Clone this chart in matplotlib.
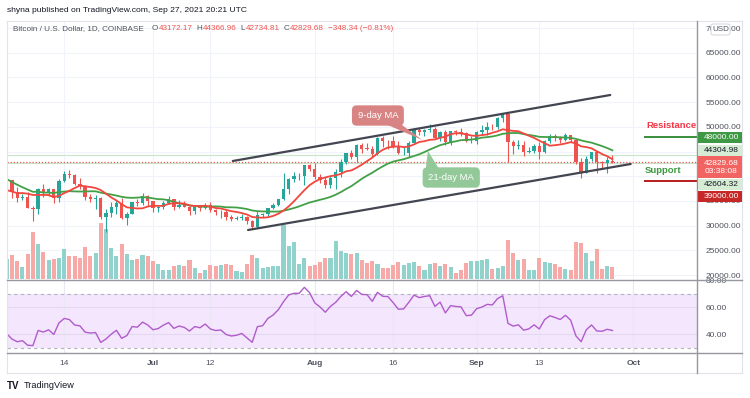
import matplotlib
matplotlib.use('Agg')
import matplotlib.pyplot as plt
import matplotlib.dates as mdates
from matplotlib.patches import Rectangle, FancyBboxPatch, Polygon
from matplotlib.lines import Line2D
import numpy as np
import pandas as pd

plt.rcParams['font.family'] = ['Liberation Sans', 'DejaVu Sans']

# daily BTC/USD candles, Jun 3 .. Sep 27 2021
start_date = '2021-06-03'
opens = [37570, 39240, 36850, 35520, 35800, 33560, 33380, 37350, 36690, 37330,
         35550, 39020, 40530, 40160, 38340, 38090, 35820, 35480, 35600, 31680,
         32500, 33680, 34660, 31590, 32280, 34700, 34490, 35910,
         35040, 33520, 33820, 34660, 35290, 33690, 34230, 33860, 32880, 33810,
         33510, 34260, 33090, 32730, 32820, 31780, 31420, 31520, 31780, 30840,
         29790, 32140, 32290, 33590, 34250, 35350, 37340, 39460, 40020, 40030,
         42230,
         41460, 39850, 39150, 38210, 39720, 40870, 42830, 44630, 43830, 46290,
         45590, 45550, 44420, 47830, 47100, 47050, 45970, 44700, 44800, 46720,
         49330, 48870, 49290, 49540, 47710, 48990, 46850, 49070, 48900, 48820,
         47050,
         47160, 48850, 49280, 50030, 49940, 51770, 52660, 46860, 46080, 46390,
         44850, 45160, 46050, 44960, 47110, 48140, 47760, 47300, 48300, 47260,
         42930, 40700, 43560, 44880, 42840, 42710, 43172.17]
highs = [39480, 39290, 37910, 36440, 36790, 34070, 37530, 38400, 37680, 37440,
         39380, 41000, 41340, 40500, 39560, 38200, 36470, 36110, 35750, 33300,
         34880, 35250, 35500, 32700, 34720, 35300, 36600, 36100,
         35040, 33950, 34940, 35950, 35290, 35110, 35060, 33920, 34090, 34250,
         34590, 34680, 33340, 33120, 33180, 32240, 31950, 32450, 31880, 31060,
         32860, 32600, 33650, 34500, 35400, 40550, 39540, 40900, 40630, 42320,
         42420,
         42600, 40450, 39780, 39970, 41410, 43400, 44700, 45330, 46460, 46700,
         46780, 46200, 47900, 48160, 47390, 48060, 47150, 46000, 47050, 49350,
         49800, 49500, 50500, 49880, 49230, 49370, 49180, 49300, 49660, 48920,
         48240,
         49150, 50380, 51050, 50560, 51900, 52780, 52920, 47380, 47400, 47040,
         45990, 46460, 46880, 47250, 48490, 48480, 48150, 48800, 48370, 47340,
         43640, 44000, 44980, 45000, 42980, 43950, 44366.96]
lows = [37170, 35570, 34800, 35270, 33480, 31000, 32400, 35800, 35950, 34600,
        34780, 38750, 39550, 38140, 37380, 35150, 34820, 33370, 31300, 28800,
        31700, 32310, 31280, 30150, 32280, 33870, 34250, 34020,
        32710, 32700, 33330, 34460, 33150, 33520, 33770, 32100, 32250, 33010,
        33330, 32700, 32230, 31580, 31150, 31020, 31160, 31110, 30410, 29280,
        29480, 31710, 31950, 33320, 33880, 35230, 36400, 38790, 39270, 38320,
        41030,
        39420, 38700, 37650, 37520, 37330, 39880, 42450, 43400, 42840, 44710,
        45350, 43800, 44250, 45970, 45540, 45700, 44400, 44230, 43950, 46640,
        48300, 48140, 49050, 47600, 47180, 46380, 46400, 48400, 48100, 46900,
        46700,
        46580, 48640, 48380, 49440, 49500, 50990, 42830, 44440, 45540, 44150,
        44750, 44760, 43390, 44690, 46700, 47040, 46750, 47050, 46880, 42500,
        39600, 40570, 43100, 40680, 41680, 40750, 42734.81]
closes = [39190, 36850, 35520, 35800, 33560, 33380, 37350, 36690, 37330, 35550,
          39020, 40530, 40160, 38340, 38090, 35820, 35480, 35600, 31680, 32500,
          33680, 34660, 31590, 32280, 34700, 34490, 35910, 35040,
          33520, 33820, 34660, 35290, 33690, 34230, 33860, 32880, 33810, 33510,
          34260, 33090, 32730, 32820, 31780, 31420, 31520, 31780, 30840, 29790,
          32140, 32290, 33590, 34250, 35350, 37340, 39460, 40020, 40030, 42230,
          41460,
          39850, 39150, 38210, 39720, 40870, 42830, 44630, 43830, 46290, 45590,
          45550, 44420, 47830, 47100, 47050, 45970, 44700, 44800, 46720, 49330,
          48870, 49290, 49540, 47710, 48990, 46850, 49070, 48900, 48820, 47050,
          47160,
          48850, 49280, 50030, 49940, 51770, 52660, 46860, 46080, 46390, 44850,
          45160, 46050, 44960, 47110, 48140, 47760, 47300, 48300, 47260, 42930,
          40700, 43560, 44880, 42840, 42710, 43210, 42829.68]
# volume, thousand BTC
volume_k = [20,
            24, 18, 12, 25, 47, 35, 27, 19, 20, 21, 30, 23, 23, 21, 32, 23, 26, 56, 50, 31,
            23, 35, 25, 19, 20, 24, 23, 18, 15, 9, 9, 13, 14, 13, 19, 11, 6, 9, 14, 13,
            14, 15, 14, 8, 7, 15, 24, 21, 11, 12, 13, 13, 54, 33, 37, 15, 21, 13,
            14, 17, 21, 21, 38, 28, 26, 25, 26, 19, 16, 18, 15, 11, 11, 14, 17, 14, 16, 17,
            13, 9, 15, 16, 13, 15, 12, 6, 9, 16, 18,
            18, 19, 20, 10, 11, 13, 39, 26, 19, 20, 9, 9, 21, 17, 16, 15, 12, 10, 9, 37,
            36, 26, 18, 30, 10, 13, 12]
# closes May 1 .. Jun 2, only used to warm up the indicators
history_closes = [57800, 56580, 57170, 53240, 57520, 56440, 57360, 58850, 58250, 55860,
                  56700, 49150, 49720, 49880, 46760, 46430, 43540, 42910, 36730, 40600,
                  37340, 37470, 34770, 38710, 38400, 39290, 38530, 35680, 34620, 35680,
                  37340, 36690, 37560]

price_ticks = [20000, 25000, 30000, 35000, 40000, 45000, 50000, 55000, 60000, 65000, 70000]
# 40000 and 45000 sit under the price-line labels, so no text for them
price_tick_labels = ['20000.00', '25000.00', '30000.00', '35000.00', '', '',
                     '50000.00', '55000.00', '60000.00', '65000.00', '70000.00']
date_ticks = ['2021-06-14', '2021-07-01', '2021-07-12', '2021-08-01', '2021-08-16',
              '2021-09-01', '2021-09-13', '2021-10-01']
date_labels = ['14', 'Jul', '12', 'Aug', '16', 'Sep', '13', 'Oct']
resistance = 48000
support = 39000
ma21_level = 44304.98
ma9_level = 42604.32
last_price = 42829.68

UP = '#26a69a'
DOWN = '#ef5350'
GRID = '#f0f3fa'
TXT = '#50535e'
FS = 6.0

W, H = 750, 398
fig = plt.figure(figsize=(7.5, 3.98), dpi=100)
fig.patch.set_facecolor('white')

def fx(px):
    return px / W

def fy(py):
    return 1 - py / H

dates = pd.date_range(start_date, periods=len(closes), freq='D')
x = mdates.date2num(dates)
o = np.array(opens, float)
c = np.array(closes, float)
up = c >= o

# indicators from the close series
allc = pd.Series(history_closes + closes, dtype=float)
n0 = len(history_closes)
ma9 = allc.rolling(9).mean().values[n0:]
ma21 = allc.rolling(21).mean().values[n0:]
d = allc.diff()
g = d.clip(lower=0).ewm(alpha=1 / 14, adjust=False).mean()
l = (-d.clip(upper=0)).ewm(alpha=1 / 14, adjust=False).mean()
rsi = (100 - 100 / (1 + g / l)).values[n0:]

L, R, T, B1, B2 = 7, 697, 21, 280, 353
xl = (x[0] + 0.04, x[0] + 132.2)
yl = (18990, 71420)
rect = [fx(L), fy(B1), fx(R - L), (B1 - T) / H]

ax_grid = fig.add_axes(rect)
ax_vol = fig.add_axes(rect)
ax = fig.add_axes(rect)
ax_rsi = fig.add_axes([fx(L), fy(B2), fx(R - L), (B2 - B1) / H])

tick_x = mdates.date2num(pd.to_datetime(date_ticks))

for a in (ax_grid, ax_vol, ax, ax_rsi):
    a.set_xlim(*xl)
    for s in a.spines.values():
        s.set_visible(False)
    a.tick_params(length=0)

ax_vol.patch.set_visible(False)
ax.patch.set_visible(False)

# grid
ax_grid.set_ylim(*yl)
ax_grid.set_xticks([])
ax_grid.set_yticks([])
for t in price_ticks:
    ax_grid.axhline(t, color=GRID, lw=0.8)
for t in tick_x:
    ax_grid.axvline(t, color=GRID, lw=0.8)

# volume
ax_vol.bar(x, volume_k, width=0.78, color=np.where(up, '#92d2cc', '#f7a9a7'))
ax_vol.set_ylim(-1, (B1 - T) - 1)
ax_vol.set_xticks([])
ax_vol.set_yticks([])

# candles
ax.set_ylim(*yl)
cols = np.where(up, UP, DOWN)
ax.vlines(x, lows, highs, colors=cols, lw=0.8, zorder=3)
ax.bar(x, np.maximum(np.abs(c - o), 60), bottom=np.minimum(o, c), width=0.64,
       color=cols, zorder=4)
ax.plot(x, ma21, color='#43a047', lw=1.3, zorder=5)
ax.plot(x, ma9, color='#f0473f', lw=1.3, zorder=5)

# horizontal price lines
ax.axhline(ma21_level, color='#c8e6c9', lw=0.8, zorder=2)
ax.axhline(ma9_level, color='#c8e6c9', lw=0.8, zorder=2)
ax.axhline(last_price, color=DOWN, lw=0.9, ls=(0, (1, 1.5)), zorder=2)

# channel
ch_up = pd.to_datetime(['2021-07-16 07:00', '2021-09-26 14:00'])
ch_lo = pd.to_datetime(['2021-07-19 05:00', '2021-09-30 12:00'])
ax.plot(mdates.date2num(ch_up), [43080, 56440], color='#434651', lw=1.6, zorder=6,
        solid_capstyle='round')
ax.plot(mdates.date2num(ch_lo), [29110, 42470], color='#434651', lw=1.6, zorder=6,
        solid_capstyle='round')

# support / resistance
lv_start = mdates.date2num(pd.Timestamp('2021-10-03 02:00'))
ax.hlines(resistance, lv_start, xl[1], color='#388e3c', lw=1.4, zorder=6)
ax.hlines(support, lv_start, xl[1], color='#b71c1c', lw=1.4, zorder=6)
ax.annotate('Resistance', (mdates.date2num(pd.Timestamp('2021-10-08 05:00')), resistance),
            xytext=(0, 4.5), textcoords='offset points', ha='center', va='bottom',
            color='#f23645', fontsize=6.8, fontweight='bold', zorder=7)
ax.annotate('Support', (lv_start, support), xytext=(0.5, 4.5), textcoords='offset points',
            ha='left', va='bottom', color='#3a9a3e', fontsize=6.8, fontweight='bold',
            zorder=7)

# MA callouts: (text, anchor date, anchor price, box date, box price, colour, tail side)
callouts = [
    ('9-day MA', '2021-08-21 14:00', 47330, '2021-08-13 02:00', 52290, '#d98484', 'bottom'),
    ('21-day MA', '2021-08-22 16:00', 45100, '2021-08-27 03:00', 39740, '#93c898', 'top'),
]
call_artists = []
for txt, ad, ap, bd, bp, col, side in callouts:
    t = ax.text(mdates.date2num(pd.Timestamp(bd)), bp, txt, ha='center', va='center',
                color='white', fontsize=6.8, zorder=8,
                bbox=dict(boxstyle='round,pad=0.6,rounding_size=0.5', fc=col, ec='none'))
    call_artists.append((t, mdates.date2num(pd.Timestamp(ad)), ap, col, side))

# price scale
ax.yaxis.tick_right()
ax.set_yticks(price_ticks)
ax.set_yticklabels(price_tick_labels)
ax.tick_params(axis='y', colors=TXT, labelsize=FS, pad=6)
ax.set_xticks([])

# RSI panel
ax_rsi.set_ylim(26, 80.3)
ax_rsi.axhspan(30, 70, color='#f3e6fd', lw=0, zorder=0)
for t in tick_x:
    ax_rsi.axvline(t, color='#ebe6f3', lw=0.8, zorder=0.5)
for t in (40, 60):
    ax_rsi.axhline(t, color='#e2d8ef', lw=0.8, zorder=0.5)
for t in (30, 70):
    ax_rsi.axhline(t, color='#b2b5be', lw=0.8, ls=(0, (3, 3)), zorder=1)
ax_rsi.plot(x, rsi, color='#b05ccb', lw=1.0, zorder=3)
ax_rsi.yaxis.tick_right()
ax_rsi.set_yticks([40, 60, 80])
ax_rsi.set_yticklabels(['40.00', '60.00', '80.00'])
ax_rsi.tick_params(axis='y', colors=TXT, labelsize=FS, pad=6)
ax_rsi.set_xticks(tick_x)
ax_rsi.set_xticklabels(date_labels)
ax_rsi.tick_params(axis='x', colors=TXT, labelsize=FS, pad=5)
for lab in ax_rsi.get_xticklabels():
    if not lab.get_text().isdigit():
        lab.set_fontweight('bold')

# frame lines
def fline(x0, y0, x1, y1, col, lw=0.8):
    fig.add_artist(Line2D([fx(x0), fx(x1)], [fy(y0), fy(y1)], color=col, lw=lw,
                          transform=fig.transFigure))

fline(L, T, 742, T, '#e0e3eb')
fline(L, T, L, 373, '#e0e3eb')
fline(L, 373, 742, 373, '#e0e3eb')
fline(742, T, 742, 373, '#e0e3eb')
fline(L, B1, 742, B1, '#9598a1', 1.0)
fline(L, B2, 742, B2, '#9598a1', 1.0)
fline(R, T, R, 373, '#9598a1', 1.0)

fig.canvas.draw()
rend = fig.canvas.get_renderer()

# callout tails, built from the drawn box and the anchor on the line
for t, axd, ap, col, side in call_artists:
    bb = t.get_bbox_patch().get_window_extent(rend)
    tip = ax.transData.transform((axd, ap))
    if side == 'bottom':
        base = [(bb.x1 - 17, bb.y0 + 1), (bb.x1 - 5, bb.y0 + 3)]
    else:
        base = [(bb.x0 + 3, bb.y1 - 3), (bb.x0 + 16, bb.y1 - 1)]
    pts = ax.transData.inverted().transform([base[0], tip, base[1]])
    ax.add_patch(Polygon(pts, closed=True, fc=col, ec='none', zorder=7.5))

# price labels on the scale: (value, text, face, text colour, offset px, rows)
labels = [
    (resistance, '48000.00', '#3f9843', 'white', 0.8, 1),
    (ma21_level, '44304.98', '#d6ecd5', '#131722', -4.5, 1),
    (last_price, '42829.68\n03:38:08', '#f26461', 'white', 5.0, 2),
    (ma9_level, '42604.32', '#d6ecd5', '#131722', 20.7, 1),
    (support, '39000.00', '#c62828', 'white', 15.5, 1),
]
for val, txt, face, tc, off, rows in labels:
    yd = ax.transData.transform((xl[0], val))[1]
    yc = H - yd + off
    h = 11 * rows
    fig.add_artist(Rectangle((fx(R + 0.5), fy(yc + h / 2)), fx(742 - R - 0.5), h / H,
                             transform=fig.transFigure, fc=face, ec='none', zorder=5))
    fig.text(fx(R + 24), fy(yc), txt, ha='center', va='center', color=tc, fontsize=FS,
             linespacing=1.2, zorder=6)

# USD badge
fig.add_artist(FancyBboxPatch((fx(711), fy(35)), fx(19), 11 / H,
                              boxstyle='round,pad=0,rounding_size=0.004',
                              transform=fig.transFigure, fc='white', ec='#d1d4dc',
                              lw=0.7, zorder=5))
fig.text(fx(720.5), fy(29.5), 'USD', ha='center', va='center', color=TXT, fontsize=5.8,
         zorder=6)

# header and legend
fig.text(fx(7), fy(10), 'shyna published on TradingView.com, Sep 27, 2021 20:21 UTC',
         ha='left', va='center', color='#131722', fontsize=6.1)
legend_bits = [(13, 'Bitcoin / U.S. Dollar, 1D, COINBASE', TXT),
               (152, 'O', TXT), (None, '43172.17', DOWN),
               (196, 'H', TXT), (None, '44366.96', DOWN),
               (239, 'L', TXT), (None, '42734.81', DOWN),
               (281, 'C', TXT), (None, '42829.68', DOWN),
               (323, '\u2212348.34 (\u22120.81%)', DOWN)]
cur = 0
for px, s, col in legend_bits:
    start = cur + 0.5 if px is None else max(px, cur + 4)
    t = fig.text(fx(start), fy(29), s, ha='left', va='center', color=col, fontsize=5.9)
    cur = t.get_window_extent(rend).x1

# footer
fig.text(fx(7), fy(386), 'TV', ha='left', va='center', color='#131722', fontsize=7,
         fontweight='heavy')
fig.text(fx(24), fy(386), 'TradingView', ha='left', va='center', color='#131722',
         fontsize=6.6)

fig.savefig('out.png', dpi=100, facecolor='white')
